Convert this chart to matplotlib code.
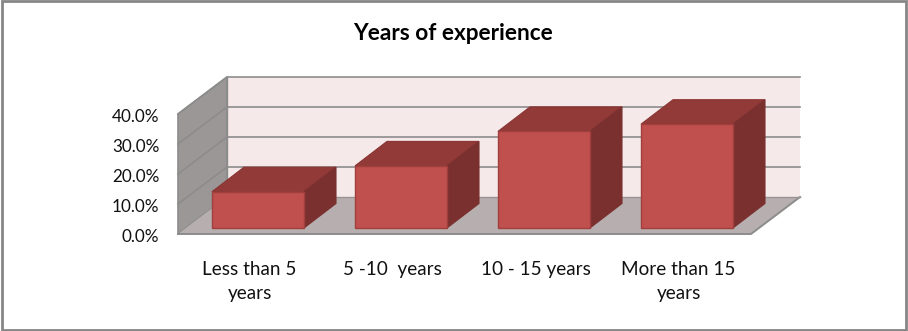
import matplotlib
matplotlib.use("Agg")
import matplotlib.pyplot as plt
from matplotlib.patches import Polygon, Rectangle

title = "Years of experience"
categories = ["Less than 5\nyears", "5 -10  years", "10 - 15 years", "More than 15\nyears"]
values = [12.1, 20.7, 32.2, 34.6]
ticks = [0, 10, 20, 30, 40]
tick_labels = ["0.0%", "10.0%", "20.0%", "30.0%", "40.0%"]

W, H = 908, 331
PX_CAT = 143.0      # pixels per category step
PX_PCT = 3.0        # pixels per percent
X0, Y0 = 258.0, 228.0   # pixel of category 0 / 0 % at bar base
dx = lambda p: p / PX_CAT
dy = lambda p: p / PX_PCT

fig = plt.figure(figsize=(W / 100, H / 100), dpi=100, facecolor="white")
ax = fig.add_axes([0, 0, 1, 1])
ax.set_xlim(-X0 / PX_CAT, (W - X0) / PX_CAT)
ax.set_ylim((Y0 - H) / PX_PCT, Y0 / PX_PCT)
ax.axis("off")

GRID = "#8c8c8c"
# chart frame
ax.add_patch(Rectangle((0.0018, 0.004), 0.9965, 0.992, transform=ax.transAxes,
                       fill=False, ec="#868686", lw=2.0, zorder=1))

# wall extents
xl = -80 / PX_CAT          # front-left corner of floor (px 178)
xr = 493 / PX_CAT          # front-right corner of floor (px 751)
base = -6 / PX_PCT         # front floor level (px 234)
top = base + 40
ddx, ddy = dx(49), dy(37)  # wall depth

# back wall
ax.add_patch(Polygon([(xl + ddx, base + ddy), (xr + ddx, base + ddy),
                      (xr + ddx, top + ddy), (xl + ddx, top + ddy)],
                     fc="#f5e9e9", ec="none", zorder=2))
# side wall
ax.add_patch(Polygon([(xl, base), (xl + ddx, base + ddy), (xl + ddx, top + ddy), (xl, top)],
                     fc="#9b9796", ec="#8c8c8c", lw=1.2, zorder=3))
# floor
ax.add_patch(Polygon([(xl, base), (xr, base), (xr + ddx, base + ddy), (xl + ddx, base + ddy)],
                     fc="#b7afaf", ec="none", zorder=3))
ax.plot([xl, xr, xr + ddx], [base, base, base + ddy], color=GRID, lw=1.4, zorder=4)

# gridlines and value labels
for t, lab in zip(ticks, tick_labels):
    v = base + t
    if t > 0:
        ax.plot([xl, xl + ddx, xr + ddx], [v, v + ddy, v + ddy], color=GRID, lw=1.2, zorder=4)
    else:
        ax.plot([xl + ddx, xr + ddx], [v + ddy, v + ddy], color="#9a9494", lw=1.0, zorder=4)
    ax.text(xl - dx(18.5), v - dy(2.8), lab, ha="right", va="center",
            fontsize=12.3, family="Lato", color="#111111", zorder=6)
ax.plot([xl + ddx] * 2, [base + ddy, top + ddy], color=GRID, lw=1.0, zorder=4)

# bars
bw = 92 / PX_CAT
bdx, bdy = dx(32), dy(24.5)
for i, v in enumerate(values):
    l, r = i - bw / 2, i + bw / 2
    ax.add_patch(Polygon([(l, v), (r, v), (r + bdx, v + bdy), (l + bdx, v + bdy)],
                         fc="#913a38", ec="#8a3533", lw=0.8, zorder=5))
    ax.add_patch(Polygon([(r, 0), (r + bdx, bdy), (r + bdx, v + bdy), (r, v)],
                         fc="#7a302f", ec="#7a302f", lw=0.8, zorder=5))
    ax.add_patch(Polygon([(l, 0), (r, 0), (r, v), (l, v)],
                         fc="#c0504d", ec="#a03f3d", lw=1.0, zorder=5))
    # first line of every label sits at the same height
    ax.text(i - dx(8.5), dy(228 - 261), categories[i], ha="center", va="top",
            fontsize=13.6, family="Lato", color="#111111", linespacing=1.5, zorder=6)

ax.text(453 / W, 1 - 33 / H, title, transform=ax.transAxes, ha="center", va="center",
        fontsize=16.3, family="Lato", fontweight="bold", color="black", zorder=6)

fig.savefig("out.png", dpi=100, facecolor="white")
